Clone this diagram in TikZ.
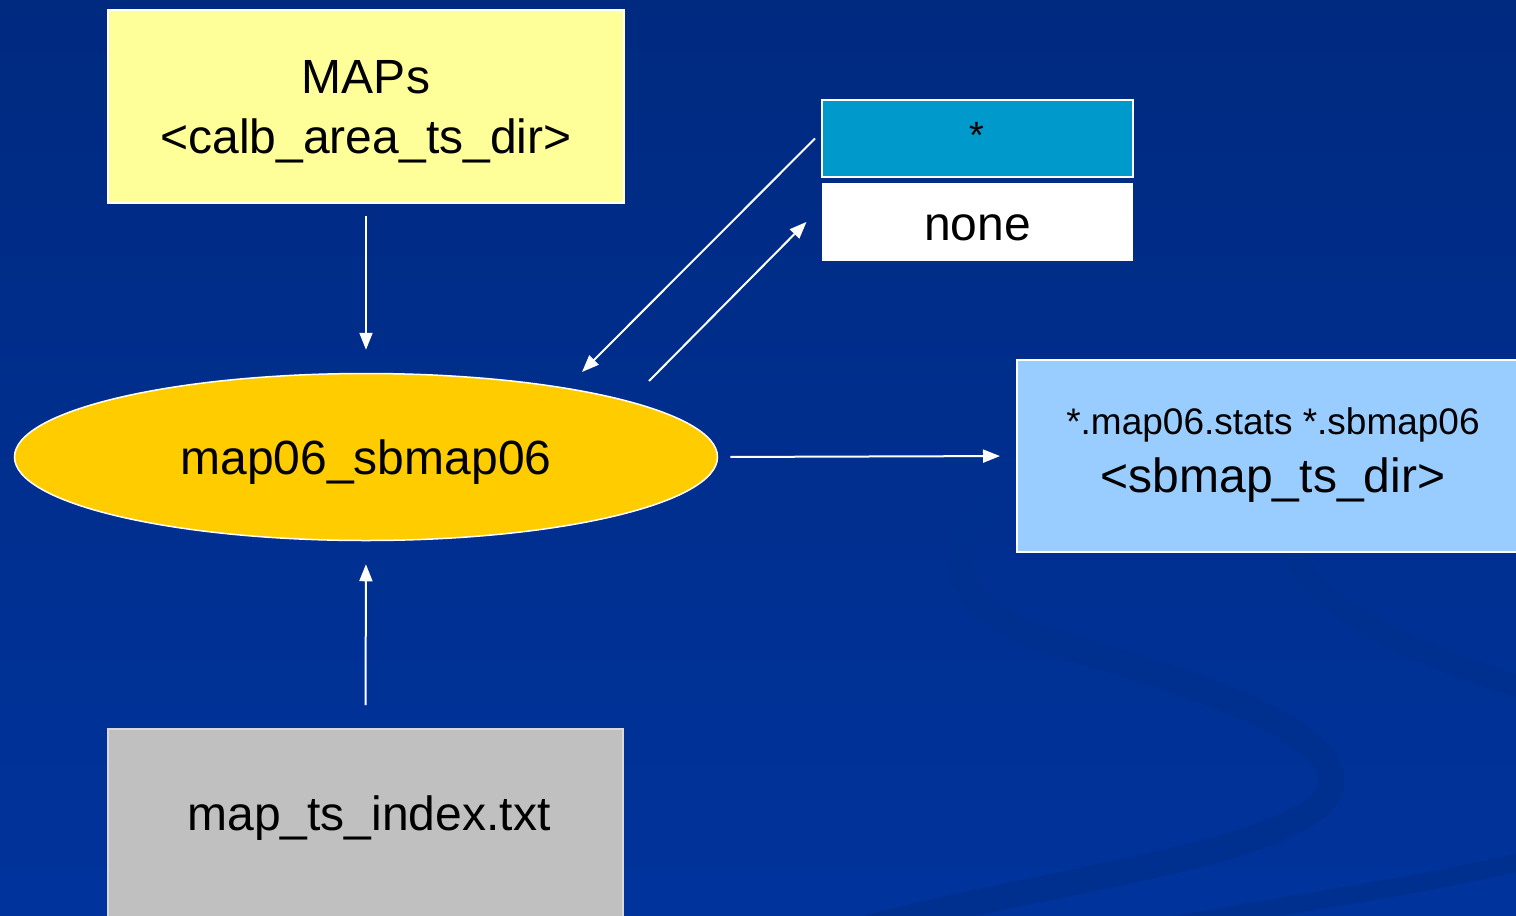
\documentclass[tikz,border=0pt]{standalone}
\usepackage{fontspec}
\setmainfont{Liberation Sans}
\usetikzlibrary{shapes.geometric,arrows.meta}

\definecolor{bgtop}{HTML}{002A80}
\definecolor{bgbot}{HTML}{00339C}
\definecolor{swirl}{HTML}{00308F}
\definecolor{mapsfill}{HTML}{FFFF99}
\definecolor{starfill}{HTML}{0099CC}
\definecolor{ellfill}{HTML}{FFCC00}
\definecolor{outfill}{HTML}{99CCFF}
\definecolor{idxfill}{HTML}{C0C0C0}

\tikzset{
  box/.style={draw=white, line width=1.5pt, inner sep=0pt},
  label text/.style={font=\fontsize{48}{60}\selectfont, text=black,
                     align=center, inner sep=0pt},
  arr/.style={draw=white, line width=2pt,
              -{Triangle[length=17pt,width=13pt]}},
}

\begin{document}
\begin{tikzpicture}[x=1pt,y=-1pt]
  \useasboundingbox (0,0) rectangle (1516,916);
  \clip (0,0) rectangle (1516,916);

  % backdrop with faint swirl bands
  \fill[top color=bgtop, bottom color=bgbot] (0,0) rectangle (1516,916);
  \draw[swirl, line width=26pt, line cap=round]
    (990,505) .. controls (930,560) and (960,620) .. (1080,650)
    .. controls (1250,700) and (1370,750) .. (1320,805)
    .. controls (1250,860) and (1050,880) .. (860,930);
  \draw[swirl, line width=22pt]
    (1290,540) .. controls (1300,600) and (1400,650) .. (1530,690);
  \draw[swirl, line width=18pt]
    (1530,860) .. controls (1400,890) and (1250,910) .. (1150,930);

  % boxes and ellipse
  \node[box, fill=mapsfill, minimum width=516pt, minimum height=193pt]
    (maps) at (366,106.5) {};
  \node[label text] at (366,112) {MAPs\\<calb\_area\_ts\_dir>};

  \node[box, fill=starfill, minimum width=311pt, minimum height=77pt,
        line width=2pt]
    (star) at (977.5,138.5) {};
  \node[font=\fontsize{38}{40}\selectfont] at (977,135) {*};

  \node[box, fill=white, draw=none, minimum width=311pt, minimum height=78pt]
    (none) at (977.5,222) {};
  \node[label text] at (977.5,228) {none};

  \node[ellipse, draw=white, line width=1.5pt, fill=ellfill,
        minimum width=703pt, minimum height=167pt, inner sep=0pt]
    (ell) at (366,457) {};
  \node[label text] at (366,462) {map06\_sbmap06};

  \node[box, fill=outfill, minimum width=540pt, minimum height=192pt,
        anchor=west]
    (out) at (1016,456) {};
  \node[font=\fontsize{37}{44}\selectfont, inner sep=0pt] at (1273,425)
    {*.map06.stats *.sbmap06};
  \node[label text] at (1273,480) {<sbmap\_ts\_dir>};

  \node[box, fill=idxfill, draw=white!85!black, minimum width=515pt,
        minimum height=220pt, anchor=north]
    (idx) at (365.5,728) {};
  \node[label text] at (369,818) {map\_ts\_index.txt};

  % free ends of the diagonal connectors
  \coordinate (d1) at (582,372);
  \coordinate (d2) at (649,381);

  % connectors
  \draw[arr, shorten <=12pt, shorten >=23pt] (maps.south) -- (ell.north);
  \draw[arr, shorten <=23pt, shorten >=23pt] (idx.north) -- (ell.south);
  \draw[arr, shorten <=12pt, shorten >=16pt] (ell.east) -- (out.west);
  \draw[arr] ([xshift=-6pt]star.west) -- (d1);
  \draw[arr, shorten >=21pt] (d2) -- ([yshift=15pt]none.west);
\end{tikzpicture}
\end{document}
